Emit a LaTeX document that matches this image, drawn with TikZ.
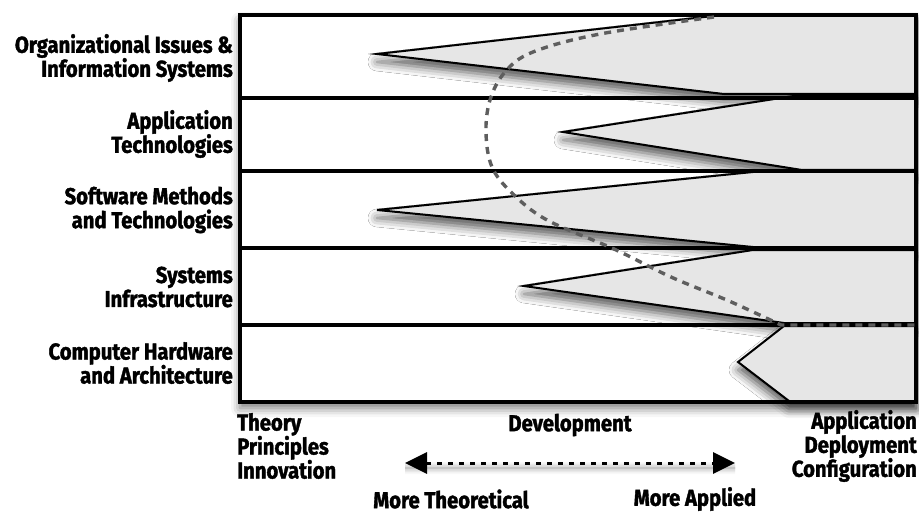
\documentclass[tikz,border=0pt]{standalone}
\usepackage{fontspec}
\setmainfont{Fira Sans}[BoldFeatures={FakeBold=1.6}, FakeStretch=0.88]
\usetikzlibrary{arrows.meta,shadows.blur}
\definecolor{shapegray}{HTML}{E6E6E6}
\definecolor{curvegray}{HTML}{5E5E5E}
\tikzset{
  lab/.style={font=\fontsize{23}{24}\selectfont\bfseries, inner sep=0pt, text=black},
  shp/.style={fill=shapegray, draw=black, line width=2pt, line join=miter,
    blur shadow={shadow xshift=0pt, shadow yshift=-8pt, shadow blur radius=9pt, shadow opacity=65}},
  divider/.style={draw=black, line width=3.4pt},
  curve/.style={draw=curvegray, line width=3.4pt, dash pattern=on 7pt off 6pt},
  axisarrow/.style={draw=black, line width=3pt, dash pattern=on 5pt off 6pt,
    {Triangle[length=22pt,width=21pt]}-{Triangle[length=22pt,width=21pt]}}
}
\begin{document}
\begin{tikzpicture}[x=1pt,y=-1pt]
\useasboundingbox (0,0) rectangle (919,516);
% outer frame background with shadow
\fill[white, blur shadow={shadow xshift=0pt, shadow yshift=-6pt, shadow blur radius=9pt, shadow opacity=55}] (240,15) rectangle (916,402);
% shapes
\draw[shp] (916,15) -- (722,15) -- (377,54) -- (724,94) -- (916,94) -- cycle;
\draw[shp] (916,95) -- (800,95) -- (563,132) -- (802,170) -- (916,170) -- cycle;
\draw[shp] (916,172) -- (753,172) -- (377,210) -- (753,247) -- (916,247) -- cycle;
\draw[shp] (916,250) -- (753,250) -- (524,286) -- (784,323) -- (916,323) -- cycle;
\draw[shp] (916,326) -- (784,326) -- (738,362) -- (789,401) -- (916,401) -- cycle;
% dividers
\draw[divider] (240,98) -- (916,98);
\draw[divider] (240,171) -- (916,171);
\draw[divider] (240,248) -- (916,248);
\draw[divider] (240,325) -- (916,325);
\draw[black, line width=3.4pt] (240,15) rectangle (916,402);
% development curve
\draw[curve] plot[smooth, tension=0.6] coordinates {(714,17) (600,34) (533,52) (505,72) (490,100) (486,133) (492,167) (512,193) (547,220) (614,249) (671,277) (729,301) (781,325)} -- (916,325);
% left labels
\node[lab, align=right, anchor=east] (l1) at (233,58) {Organizational Issues \&\\Information Systems};
\node[lab, align=right, anchor=east] (l2) at (233,134) {Application\\Technologies};
\node[lab, align=right, anchor=east] (l3) at (233,210) {Software Methods\\and Technologies};
\node[lab, align=right, anchor=east] (l4) at (233,287) {Systems\\Infrastructure};
\node[lab, align=right, anchor=east] (l5) at (233,363) {Computer Hardware\\and Architecture};
% bottom labels
\node[lab, align=left, anchor=west] (theory) at (237,446) {Theory\\Principles\\Innovation};
\node[lab] (dev) at (570,425) {Development};
\node[lab, align=right, anchor=east] (appl) at (917,446) {Application\\Deployment\\Configuration};
\node[lab] (moret) at (451,499) {More Theoretical};
\node[lab] (morea) at (695,499) {More Applied};
\coordinate (al) at (405,463);
\coordinate (ar) at (735,463);
\draw[axisarrow, blur shadow={shadow xshift=0pt, shadow yshift=-5pt, shadow blur radius=6pt, shadow opacity=45}] (al) -- (ar);
\end{tikzpicture}
\end{document}
